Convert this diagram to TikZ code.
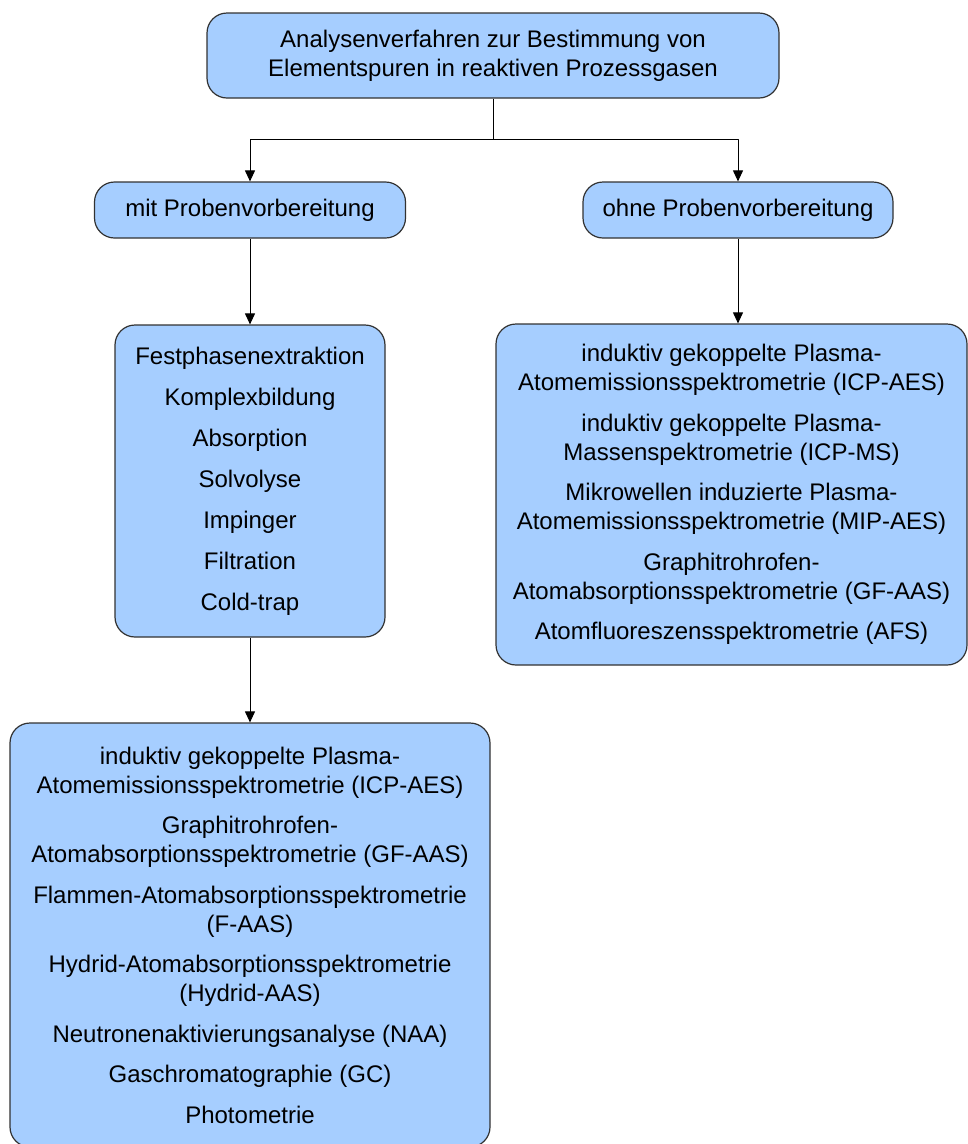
\documentclass[tikz,border=0pt]{standalone}
\usepackage{fontspec}
\setmainfont{Liberation Sans}
\usetikzlibrary{arrows.meta}
\definecolor{kastenblau}{RGB}{166,206,255}
\definecolor{rahmen}{RGB}{50,50,50}
\newcommand\schrift{\fontsize{24}{29}\selectfont}
\tikzset{
  kasten/.style={draw=rahmen, fill=kastenblau, rounded corners=20pt, line width=1.2pt,
    align=center, inner sep=0pt, font=\schrift},
  pfeil/.style={-{Triangle[width=10pt,length=11pt]}, line width=1pt}
}
\begin{document}
\begin{tikzpicture}[x=1pt,y=-1pt, line join=round]
  \useasboundingbox (0,0) rectangle (968,1144);
  \def\lz{11.5pt}
  \node[kasten, minimum width=572pt, minimum height=85pt] (titel) at (493,55.5)
    {Analysenverfahren zur Bestimmung von\\Elementspuren in reaktiven Prozessgasen};
  \node[kasten, minimum width=311pt, minimum height=56pt] (mit) at (250,210)
    {mit Probenvorbereitung};
  \node[kasten, minimum width=310pt, minimum height=56pt] (ohne) at (738,210)
    {ohne Probenvorbereitung};
  \node[kasten, minimum width=270pt, minimum height=312pt] (praep) at (250,481)
    {Festphasenextraktion\\[12pt]Komplexbildung\\[12pt]Absorption\\[12pt]Solvolyse\\[12pt]%
     Impinger\\[12pt]Filtration\\[12pt]Cold-trap};
  \node[kasten, minimum width=471pt, minimum height=341pt] (direkt) at (731.5,494.5)
    {induktiv gekoppelte Plasma-\\Atomemissionsspektrometrie (ICP-AES)\\[\lz]%
     induktiv gekoppelte Plasma-\\Massenspektrometrie (ICP-MS)\\[\lz]%
     Mikrowellen induzierte Plasma-\\Atomemissionsspektrometrie (MIP-AES)\\[\lz]%
     Graphitrohrofen-\\Atomabsorptionsspektrometrie (GF-AAS)\\[\lz]%
     Atomfluoreszensspektrometrie (AFS)};
  \node[kasten, minimum width=480pt, minimum height=424pt] (mess) at (250,935)
    {induktiv gekoppelte Plasma-\\Atomemissionsspektrometrie (ICP-AES)\\[\lz]%
     Graphitrohrofen-\\Atomabsorptionsspektrometrie (GF-AAS)\\[\lz]%
     Flammen-Atomabsorptionsspektrometrie\\(F-AAS)\\[\lz]%
     Hydrid-Atomabsorptionsspektrometrie\\(Hydrid-AAS)\\[\lz]%
     Neutronenaktivierungsanalyse (NAA)\\[\lz]%
     Gaschromatographie (GC)\\[\lz]%
     Photometrie};
  \coordinate (knick) at (493,139);
  \draw[line width=1pt] (titel.south) -- (knick);
  \draw[pfeil] (knick) -| (mit.north);
  \draw[pfeil] (knick) -| (ohne.north);
  \draw[pfeil] (mit.south) -- (praep.north);
  \draw[pfeil] (ohne.south) -- (ohne.south |- direkt.north);
  \draw[pfeil] (praep.south) -- (mess.north);
\end{tikzpicture}
\end{document}
